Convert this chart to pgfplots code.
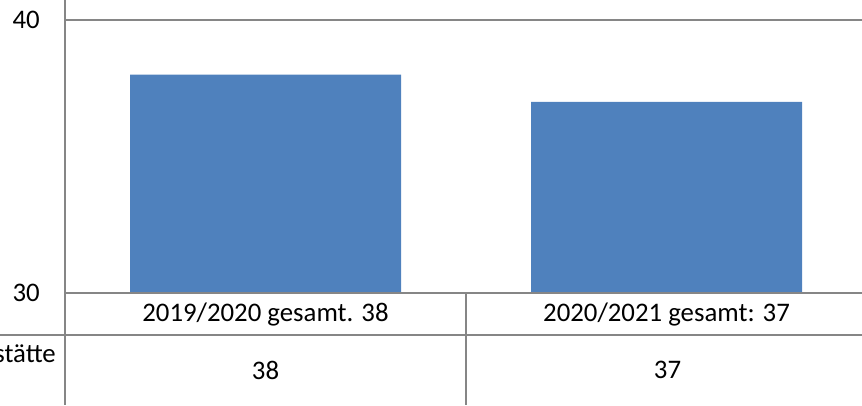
\documentclass[border=0pt]{standalone}
\usepackage{pgfplots}
\pgfplotsset{compat=1.18}
\usepackage{fontspec}
\setmainfont{Carlito}
\definecolor{barblue}{HTML}{4F81BD}
\definecolor{linegray}{RGB}{134,134,134}

\begin{document}
\begin{tikzpicture}[x=1pt, y=1pt, font=\fontsize{26.8}{32}\selectfont]
\path[use as bounding box, clip] (0,0) rectangle (862,405);
\begin{axis}[
  at={(65pt,112pt)}, anchor=south west,
  scale only axis, width=797pt, height=273pt,
  xmin=-0.5, xmax=1.4875, ymin=30, ymax=40,
  axis line style={draw=none},
  ytick={30,40}, xtick={0,1},
  xticklabels={2019/2020 gesamt. 38, 2020/2021 gesamt: 37},
  major tick length=0pt,
  tick label style={font=\fontsize{26.8}{32}\selectfont},
  /pgf/number format/assume math mode=true,
  yticklabel style={inner sep=0pt, anchor=east, xshift=-25pt},
  xticklabel style={inner sep=0pt, anchor=center, yshift=-21pt},
]
\addplot[ybar, bar width=271pt, fill=barblue, draw=none]
  coordinates {(0,38) (1,37)};
\end{axis}
% data table grid
\draw[linegray, line width=2pt]
  (65,405) -- (65,0)
  (65,385) -- (862,385)
  (65,112) -- (862,112)
  (0,70) -- (862,70)
  (466,112) -- (466,0);
\node[inner sep=0pt] at (265.5,35) {38};
\node[inner sep=0pt] at (667.5,35) {37};
\node[anchor=base east, inner sep=0pt] at (56,43) {stätte};
\end{tikzpicture}
\end{document}
